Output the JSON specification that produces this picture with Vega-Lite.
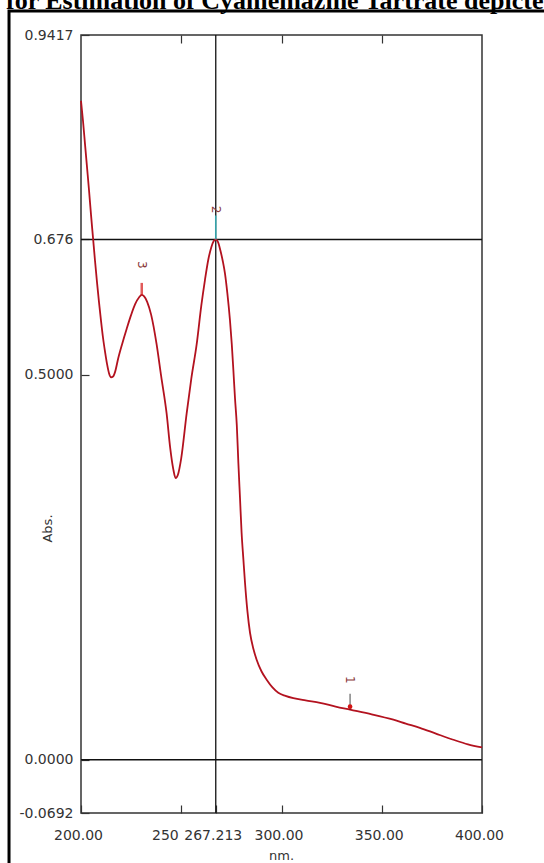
{
  "$schema": "https://vega.github.io/schema/vega-lite/v6.json",
  "width": 401,
  "height": 778,
  "autosize": {"type": "none"},
  "padding": {"left": 81, "top": 35, "right": 62, "bottom": 50},
  "background": "white",
  "title": {
    "text": "for Estimation of Cyamemazine Tartrate depicted",
    "anchor": "start",
    "frame": "group",
    "dx": -75,
    "offset": -26,
    "baseline": "alphabetic",
    "font": "Liberation Serif",
    "fontSize": 26,
    "fontWeight": "bold",
    "color": "black"
  },
  "config": {
    "view": {"stroke": "#333333", "strokeWidth": 1.5},
    "axis": {
      "labelFont": "DejaVu Sans",
      "labelFontSize": 14,
      "labelColor": "#333333",
      "titleFont": "DejaVu Sans",
      "titleFontSize": 13,
      "titleFontWeight": "normal",
      "titleColor": "#333333",
      "tickColor": "#333333",
      "tickWidth": 1.2,
      "domain": false,
      "grid": false
    }
  },
  "datasets": {
    "spectrum": [
      {"wl": 200, "abs": 0.856}, {"wl": 201, "abs": 0.83}, {"wl": 202, "abs": 0.8},
      {"wl": 203, "abs": 0.77}, {"wl": 204, "abs": 0.74}, {"wl": 205, "abs": 0.708},
      {"wl": 206, "abs": 0.678}, {"wl": 207, "abs": 0.648}, {"wl": 208, "abs": 0.62},
      {"wl": 209, "abs": 0.594}, {"wl": 210, "abs": 0.57}, {"wl": 211, "abs": 0.548},
      {"wl": 212, "abs": 0.53}, {"wl": 213, "abs": 0.514}, {"wl": 214, "abs": 0.502},
      {"wl": 215, "abs": 0.497}, {"wl": 216, "abs": 0.498}, {"wl": 217, "abs": 0.504},
      {"wl": 218.6, "abs": 0.522}, {"wl": 220.5, "abs": 0.54}, {"wl": 222.8, "abs": 0.56},
      {"wl": 225, "abs": 0.578}, {"wl": 227, "abs": 0.592}, {"wl": 229, "abs": 0.601},
      {"wl": 230.3, "abs": 0.604}, {"wl": 231.5, "abs": 0.602}, {"wl": 233, "abs": 0.595},
      {"wl": 235, "abs": 0.578}, {"wl": 237.7, "abs": 0.54}, {"wl": 240, "abs": 0.498},
      {"wl": 242.7, "abs": 0.45}, {"wl": 244.5, "abs": 0.405}, {"wl": 246, "abs": 0.378},
      {"wl": 247.2, "abs": 0.366}, {"wl": 248.3, "abs": 0.37}, {"wl": 250, "abs": 0.392},
      {"wl": 252.7, "abs": 0.45}, {"wl": 255, "abs": 0.495}, {"wl": 257.7, "abs": 0.54},
      {"wl": 260, "abs": 0.59}, {"wl": 261.8, "abs": 0.623}, {"wl": 263.5, "abs": 0.65},
      {"wl": 265, "abs": 0.666}, {"wl": 266.2, "abs": 0.674}, {"wl": 267.213, "abs": 0.676},
      {"wl": 268.3, "abs": 0.673}, {"wl": 269.5, "abs": 0.662}, {"wl": 270.7, "abs": 0.648},
      {"wl": 271.8, "abs": 0.632}, {"wl": 273, "abs": 0.606}, {"wl": 274.3, "abs": 0.571},
      {"wl": 275.2, "abs": 0.54}, {"wl": 276, "abs": 0.506}, {"wl": 276.8, "abs": 0.47},
      {"wl": 277.7, "abs": 0.435}, {"wl": 278.5, "abs": 0.385}, {"wl": 279.3, "abs": 0.34},
      {"wl": 280.1, "abs": 0.295}, {"wl": 281, "abs": 0.26}, {"wl": 281.8, "abs": 0.23},
      {"wl": 283, "abs": 0.193}, {"wl": 284.3, "abs": 0.165}, {"wl": 286, "abs": 0.144},
      {"wl": 287.6, "abs": 0.13}, {"wl": 290, "abs": 0.115}, {"wl": 292.6, "abs": 0.104},
      {"wl": 295.5, "abs": 0.094}, {"wl": 298.4, "abs": 0.087}, {"wl": 302, "abs": 0.083},
      {"wl": 305.9, "abs": 0.08}, {"wl": 312, "abs": 0.077}, {"wl": 319.2, "abs": 0.074},
      {"wl": 327, "abs": 0.069}, {"wl": 334.2, "abs": 0.065}, {"wl": 345, "abs": 0.059},
      {"wl": 355.8, "abs": 0.052}, {"wl": 362, "abs": 0.047}, {"wl": 369, "abs": 0.0415},
      {"wl": 377, "abs": 0.034}, {"wl": 385.7, "abs": 0.026}, {"wl": 393, "abs": 0.02},
      {"wl": 400, "abs": 0.016}
    ],
    "peaks": [
      {"wl": 334.2, "abs": 0.065, "label": "1"},
      {"wl": 267.213, "abs": 0.676, "label": "2"},
      {"wl": 230.3, "abs": 0.604, "label": "3"}
    ],
    "hlines": [{"abs": 0.676}, {"abs": 0}],
    "vlines": [{"wl": 267.213}]
  },
  "resolve": {"axis": {"x": "independent", "y": "independent"}},
  "layer": [
    {
      "data": {"name": "hlines"},
      "mark": {"type": "rule", "color": "#111111", "strokeWidth": 1.3},
      "encoding": {
        "y": {"field": "abs", "type": "quantitative", "scale": {"domain": [-0.0692, 0.9417], "nice": false, "zero": false}, "axis": null}
      }
    },
    {
      "data": {"name": "vlines"},
      "mark": {"type": "rule", "color": "#111111", "strokeWidth": 1.3},
      "encoding": {
        "x": {
          "field": "wl", "type": "quantitative",
          "scale": {"domain": [200, 400], "nice": false, "zero": false},
          "axis": {"orient": "top", "values": [250, 300, 350], "labels": false, "tickSize": -8, "title": null}
        }
      }
    },
    {
      "data": {"name": "spectrum"},
      "mark": {"type": "line", "color": "#b3121f", "strokeWidth": 1.8, "interpolate": "monotone"},
      "encoding": {
        "x": {
          "field": "wl", "type": "quantitative",
          "scale": {"domain": [200, 400], "nice": false, "zero": false},
          "axis": {
            "orient": "bottom",
            "values": [200, 250, 267.213, 300, 350, 400],
            "labelExpr": "datum.value == 250 ? '250' : datum.value == 267.213 ? '267.213' : format(datum.value, '.2f')",
            "labelAlign": {"condition": {"test": "datum.value == 250", "value": "right"}, "value": "center"},
            "labelOffset": -3,
            "labelOverlap": false,
            "labelFlush": false,
            "tickSize": -8,
            "labelPadding": 23,
            "title": "nm.",
            "titleX": 200,
            "titleY": 42,
            "titleAlign": "center",
            "titleBaseline": "middle"
          }
        },
        "y": {
          "field": "abs", "type": "quantitative",
          "scale": {"domain": [-0.0692, 0.9417], "nice": false, "zero": false},
          "axis": {
            "orient": "left",
            "values": [-0.0692, 0, 0.5, 0.676, 0.9417],
            "labelExpr": "datum.value == 0.676 ? '0.676' : datum.value == 0.9417 ? '0.9417' : datum.value == -0.0692 ? '-0.0692' : format(datum.value, '.4f')",
            "labelOverlap": false,
            "labelFlush": false,
            "tickSize": -8,
            "labelPadding": 16,
            "title": "Abs.",
            "titleAngle": -90,
            "titleX": -34,
            "titleY": 493,
            "titleAlign": "center",
            "titleBaseline": "middle"
          }
        }
      }
    },
    {
      "data": {"name": "peaks"},
      "transform": [{"filter": "datum.label == '2'"}],
      "mark": {"type": "tick", "orient": "vertical", "color": "#38d6e0", "size": 24, "thickness": 1.6, "yOffset": -12},
      "encoding": {
        "x": {"field": "wl", "type": "quantitative", "axis": null},
        "y": {"field": "abs", "type": "quantitative", "axis": null}
      }
    },
    {
      "data": {"name": "peaks"},
      "transform": [{"filter": "datum.label == '3'"}],
      "mark": {"type": "tick", "orient": "vertical", "color": "#d41414", "size": 12, "thickness": 2.5, "yOffset": -6},
      "encoding": {
        "x": {"field": "wl", "type": "quantitative", "axis": null},
        "y": {"field": "abs", "type": "quantitative", "axis": null}
      }
    },
    {
      "data": {"name": "peaks"},
      "transform": [{"filter": "datum.label == '1'"}],
      "mark": {"type": "tick", "orient": "vertical", "color": "#222222", "size": 16, "thickness": 1.2, "yOffset": -8},
      "encoding": {
        "x": {"field": "wl", "type": "quantitative", "axis": null},
        "y": {"field": "abs", "type": "quantitative", "axis": null}
      }
    },
    {
      "data": {"name": "peaks"},
      "transform": [{"filter": "datum.label == '1'"}],
      "mark": {"type": "point", "shape": "circle", "filled": true, "color": "#d41414", "size": 22, "yOffset": -3, "opacity": 1},
      "encoding": {
        "x": {"field": "wl", "type": "quantitative", "axis": null},
        "y": {"field": "abs", "type": "quantitative", "axis": null}
      }
    },
    {
      "data": {"name": "peaks"},
      "mark": {"type": "text", "angle": 90, "align": "center", "baseline": "middle", "yOffset": -30, "font": "DejaVu Sans", "fontSize": 12, "color": "#8a3a3a"},
      "encoding": {
        "x": {"field": "wl", "type": "quantitative", "axis": null},
        "y": {"field": "abs", "type": "quantitative", "axis": null},
        "text": {"field": "label"}
      }
    },
    {
      "data": {"values": [{}]},
      "mark": {"type": "rect", "fill": null, "fillOpacity": 0, "stroke": "#000000", "strokeWidth": 3, "clip": false},
      "encoding": {
        "x": {"datum": 164.1, "type": "quantitative", "axis": null},
        "x2": {"datum": 438.9},
        "y": {"datum": 0.9729, "type": "quantitative", "axis": null},
        "y2": {"datum": -0.1563}
      }
    }
  ]
}
